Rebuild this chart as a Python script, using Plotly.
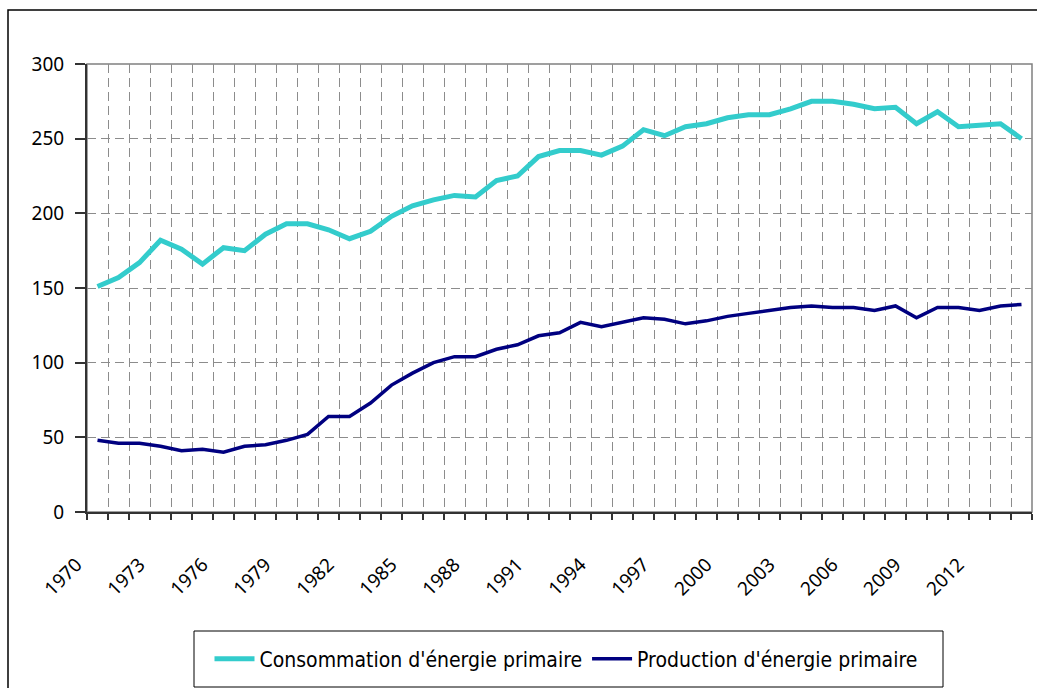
#!/usr/bin/env python3

import plotly.graph_objs as go

years = list(range(1970, 2015))

consommation = [151, 157, 167, 182, 176, 166, 177, 175, 186, 193, 193, 189,
                183, 188, 198, 205, 209, 212, 211, 222, 225, 238, 242, 242,
                239, 245, 256, 252, 258, 260, 264, 266, 266, 270, 275, 275,
                273, 270, 271, 260, 268, 258, 259, 260, 250]

production = [48, 46, 46, 44, 41, 42, 40, 44, 45, 48, 52, 64,
              64, 73, 85, 93, 100, 104, 104, 109, 112, 118, 120, 127,
              124, 127, 130, 129, 126, 128, 131, 133, 135, 137, 138, 137,
              137, 135, 138, 130, 137, 137, 135, 138, 139]

tick_years = years[::3]

W, H = 1037, 688
L, R, T, B = 87, 5, 64, 176
PW, PH = W - L - R, H - T - B


def px(x, y):
    # pixel position in the page -> paper coords
    return (x - L) / PW, (H - B - y) / PH


font = "Noto Sans, Open Sans, DejaVu Sans, sans-serif"
legend_font = "DejaVu Sans Condensed, Liberation Sans Narrow, Roboto, sans-serif"

fig = go.Figure()
fig.add_trace(go.Scatter(x=years, y=consommation, mode="lines",
                         name="Consommation d'énergie primaire",
                         line=dict(color="#33CCCC", width=5)))
fig.add_trace(go.Scatter(x=years, y=production, mode="lines",
                         name="Production d'énergie primaire",
                         line=dict(color="#000080", width=3.5)))

# frame round the whole chart
fx0, fy0 = px(8, 10)
fx1, fy1 = px(1045, 700)
fig.add_shape(type="rect", xref="paper", yref="paper", x0=fx0, y0=fy1, x1=fx1, y1=fy0,
              line=dict(color="black", width=1.5), layer="below")
# plot area border (grey top and right)
fig.add_shape(type="rect", xref="x domain", yref="y domain", x0=0, y0=0, x1=1, y1=1,
              line=dict(color="#808080", width=1.5), layer="below")
# legend box
lx0, ly0 = px(194, 631)
lx1, ly1 = px(943, 687)
fig.add_shape(type="rect", xref="paper", yref="paper", x0=lx0, y0=ly1, x1=lx1, y1=ly0,
              line=dict(color="black", width=1), fillcolor="white")

lcx, lcy = px(566, 659)
fig.update_layout(
    width=W, height=H,
    margin=dict(l=L, r=R, t=T, b=B, autoexpand=False),
    paper_bgcolor="white", plot_bgcolor="white",
    showlegend=True,
    legend=dict(orientation="h", x=lcx, y=lcy, xanchor="center", yanchor="middle",
                font=dict(family=legend_font, size=21, color="black"),
                bgcolor="rgba(0,0,0,0)", itemwidth=40),
    xaxis=dict(range=[1969.5, 2014.5], tickvals=tick_years, ticks="",
               showgrid=False, zeroline=False, automargin=False,
               showline=True, linecolor="#333333", linewidth=2,
               tickangle=-45, ticklabelshift=-21, ticklabelstandoff=32,
               tickfont=dict(family=font, size=19, color="black"),
               minor=dict(tick0=1969.5, dtick=1, showgrid=True, gridcolor="#8c8c8c",
                          griddash="9px,5px", gridwidth=1, ticks="outside",
                          ticklen=6, tickcolor="#333333", tickwidth=1.5)),
    yaxis=dict(range=[0, 300], dtick=50, tickformat="d", automargin=False,
               showgrid=True, gridcolor="#8c8c8c", griddash="9px,5px", gridwidth=1,
               zeroline=False, showline=True, linecolor="#333333", linewidth=2,
               ticks="outside", ticklen=10, tickcolor="#333333", tickwidth=1.5,
               ticklabelstandoff=7,
               tickfont=dict(family=font, size=19, color="black")),
)

# no default page margin, so the figure sits at the window's corner
fig.write_html("out.html", config={"displayModeBar": False},
               post_script="document.body.style.margin='0';")
